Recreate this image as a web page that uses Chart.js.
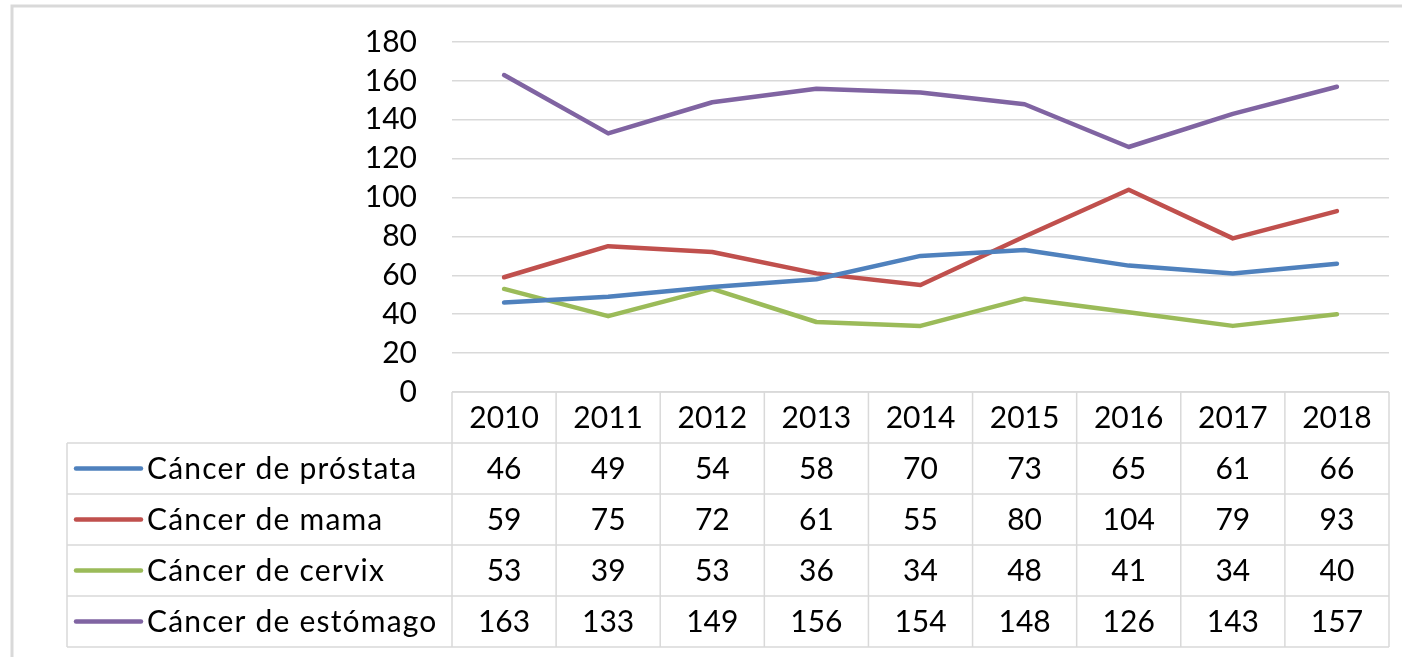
<!DOCTYPE html>
<html>
<head>
<meta charset="utf-8">
<script src="https://cdn.jsdelivr.net/npm/chart.js@4/dist/chart.umd.min.js"></script>
<style>
  body { margin: 0; background: #fff; }
  canvas { display: block; }
</style>
</head>
<body>
<canvas id="cancerChart" width="1402" height="657"></canvas>
<script>
const years = ['2010', '2011', '2012', '2013', '2014', '2015', '2016', '2017', '2018'];
const prostata = [46, 49, 54, 58, 70, 73, 65, 61, 66];
const mama = [59, 75, 72, 61, 55, 80, 104, 79, 93];
const cervix = [53, 39, 53, 36, 34, 48, 41, 34, 40];
const estomago = [163, 133, 149, 156, 154, 148, 126, 143, 157];
const seriesNames = ['Cáncer de próstata', 'Cáncer de mama', 'Cáncer de cervix', 'Cáncer de estómago'];
const seriesColors = ['#4f81bd', '#c0504d', '#9bbb59', '#8064a2'];

const FONT = '30px Lato';
const gridColor = '#d9d9d9';
const rowHeight = 51;
const tableLeft = 67;

// draws the outer frame and the Excel-style data table under the plot
const dataTable = {
    id: 'dataTable',
    beforeDraw(chart) {
        const ctx = chart.ctx;
        ctx.save();
        ctx.strokeStyle = gridColor;
        ctx.lineWidth = 3;
        ctx.beginPath();
        ctx.moveTo(12, 700);
        ctx.lineTo(12, 6);
        ctx.lineTo(1450, 6);
        ctx.stroke();
        ctx.restore();
    },
    afterDraw(chart) {
        const ctx = chart.ctx;
        const area = chart.chartArea;
        const x = chart.scales.x;
        const top = area.bottom;
        const n = years.length;
        const rows = chart.data.datasets.length;
        const bottom = top + rowHeight * (rows + 1);

        const bounds = [area.left];
        for (let i = 0; i < n - 1; i++) {
            bounds.push((x.getPixelForTick(i) + x.getPixelForTick(i + 1)) / 2);
        }
        bounds.push(area.right);

        ctx.save();
        ctx.strokeStyle = gridColor;
        ctx.lineWidth = 1.5;
        ctx.beginPath();
        // header row top
        ctx.moveTo(area.left, top);
        ctx.lineTo(area.right, top);
        for (let r = 1; r <= rows + 1; r++) {
            ctx.moveTo(tableLeft, top + r * rowHeight);
            ctx.lineTo(area.right, top + r * rowHeight);
        }
        bounds.forEach(b => {
            ctx.moveTo(b, top);
            ctx.lineTo(b, bottom);
        });
        ctx.moveTo(tableLeft, top + rowHeight);
        ctx.lineTo(tableLeft, bottom);
        ctx.stroke();

        ctx.font = FONT;
        ctx.fillStyle = '#000';
        ctx.textBaseline = 'middle';
        ctx.textAlign = 'center';
        years.forEach((y, i) => {
            ctx.fillText(y, x.getPixelForTick(i), top + rowHeight / 2 + 1);
        });

        chart.data.datasets.forEach((ds, r) => {
            const cy = top + rowHeight * (r + 1) + rowHeight / 2;
            ctx.textAlign = 'center';
            ctx.letterSpacing = '0px';
            ds.data.forEach((v, i) => {
                ctx.fillText(String(v), x.getPixelForTick(i), cy + 1);
            });
            ctx.strokeStyle = ds.borderColor;
            ctx.lineWidth = 4.5;
            ctx.lineCap = 'round';
            ctx.beginPath();
            ctx.moveTo(76, cy);
            ctx.lineTo(141, cy);
            ctx.stroke();
            ctx.textAlign = 'left';
            ctx.letterSpacing = '1.2px';
            ctx.fillText(ds.label, 147, cy + 1);
        });
        ctx.restore();
    }
};

const allSeries = [prostata, mama, cervix, estomago];

new Chart(document.getElementById('cancerChart'), {
    type: 'line',
    data: {
        labels: years,
        datasets: allSeries.map((d, i) => ({
            label: seriesNames[i],
            data: d,
            borderColor: seriesColors[i],
            backgroundColor: seriesColors[i],
            borderWidth: 4.5,
            pointRadius: 0,
            tension: 0,
            borderCapStyle: 'round',
            borderJoinStyle: 'round',
            fill: false
        }))
    },
    options: {
        responsive: false,
        animation: false,
        layout: { padding: { left: 0, top: 42, right: 13, bottom: 265 } },
        plugins: {
            legend: { display: false },
            tooltip: { enabled: false }
        },
        scales: {
            x: {
                display: false,
                offset: true
            },
            y: {
                min: 0,
                max: 180,
                ticks: {
                    stepSize: 20,
                    autoSkip: false,
                    padding: 7,
                    color: '#000',
                    font: { family: 'Lato', size: 30 }
                },
                grid: {
                    color: gridColor,
                    lineWidth: 1.5,
                    drawTicks: true,
                    tickLength: 28,
                    tickColor: 'rgba(0,0,0,0)'
                },
                border: { display: false },
                afterFit(scale) { scale.width = 452; }
            }
        }
    },
    plugins: [dataTable]
});
</script>
</body>
</html>
